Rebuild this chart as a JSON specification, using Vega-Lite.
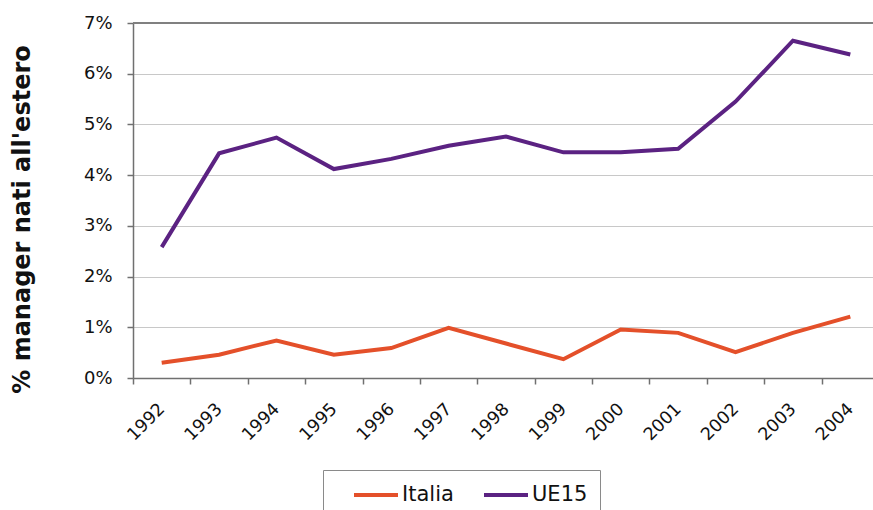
{
  "$schema": "https://vega.github.io/schema/vega-lite/v6.json",
  "autosize": {"type": "none"},
  "padding": {"left": 133, "top": 23, "right": 0, "bottom": 132},
  "width": 746,
  "height": 355,
  "background": "white",
  "config": {
    "font": "DejaVu Sans",
    "view": {"stroke": null},
    "legend": {"strokeColor": "#8a8a8a"}
  },
  "data": {
    "values": [
      {"anno": "1992", "serie": "Italia", "valore": 0.0030},
      {"anno": "1993", "serie": "Italia", "valore": 0.0046},
      {"anno": "1994", "serie": "Italia", "valore": 0.0074},
      {"anno": "1995", "serie": "Italia", "valore": 0.0046},
      {"anno": "1996", "serie": "Italia", "valore": 0.0059},
      {"anno": "1997", "serie": "Italia", "valore": 0.0099},
      {"anno": "1998", "serie": "Italia", "valore": 0.0068},
      {"anno": "1999", "serie": "Italia", "valore": 0.0037},
      {"anno": "2000", "serie": "Italia", "valore": 0.00955},
      {"anno": "2001", "serie": "Italia", "valore": 0.0089},
      {"anno": "2002", "serie": "Italia", "valore": 0.0051},
      {"anno": "2003", "serie": "Italia", "valore": 0.0089},
      {"anno": "2004", "serie": "Italia", "valore": 0.0121},
      {"anno": "1992", "serie": "UE15", "valore": 0.0258},
      {"anno": "1993", "serie": "UE15", "valore": 0.0443},
      {"anno": "1994", "serie": "UE15", "valore": 0.0474},
      {"anno": "1995", "serie": "UE15", "valore": 0.0412},
      {"anno": "1996", "serie": "UE15", "valore": 0.0432},
      {"anno": "1997", "serie": "UE15", "valore": 0.0458},
      {"anno": "1998", "serie": "UE15", "valore": 0.0476},
      {"anno": "1999", "serie": "UE15", "valore": 0.0445},
      {"anno": "2000", "serie": "UE15", "valore": 0.0445},
      {"anno": "2001", "serie": "UE15", "valore": 0.0452},
      {"anno": "2002", "serie": "UE15", "valore": 0.0545},
      {"anno": "2003", "serie": "UE15", "valore": 0.0665},
      {"anno": "2004", "serie": "UE15", "valore": 0.0638}
    ]
  },
  "layer": [
    {
      "mark": {"type": "rule", "color": "#808080", "strokeWidth": 1.5},
      "encoding": {"y": {"datum": 0.07, "type": "quantitative", "scale": {"domain": [0, 0.07]}}}
    },
    {
      "mark": {"type": "line", "strokeWidth": 4, "strokeJoin": "miter", "strokeCap": "butt"},
      "encoding": {
        "x": {
          "field": "anno",
          "type": "ordinal",
          "scale": {"type": "band", "paddingInner": 0, "paddingOuter": 0},
          "axis": {
            "title": null,
            "domainColor": "#707070",
            "domainWidth": 1.5,
            "tickColor": "#707070",
            "tickWidth": 1.5,
            "tickSize": 6,
            "tickBand": "extent",
            "labelAngle": -45,
            "labelAlign": "right",
            "labelBaseline": "middle",
            "labelPadding": 22,
            "labelFontSize": 17.5,
            "labelColor": "#111111",
            "labelFont": "DejaVu Sans"
          }
        },
        "y": {
          "field": "valore",
          "type": "quantitative",
          "scale": {"domain": [0, 0.07], "nice": false},
          "axis": {
            "title": "% manager nati all'estero",
            "titleFont": "DejaVu Sans",
            "titleFontSize": 24,
            "titleFontWeight": "bold",
            "titleColor": "#111111",
            "titleX": -111,
            "titleY": 196,
            "titleAlign": "center",
            "titleBaseline": "middle",
            "titleAngle": -90,
            "format": ".0%",
            "values": [0, 0.01, 0.02, 0.03, 0.04, 0.05, 0.06, 0.07],
            "labelFontSize": 18,
            "labelColor": "#111111",
            "labelFont": "DejaVu Sans",
            "labelPadding": 15,
            "domainColor": "#707070",
            "domainWidth": 1.5,
            "tickColor": "#707070",
            "tickWidth": 1.5,
            "tickSize": 6,
            "grid": true,
            "gridColor": "#c8c8c8",
            "gridWidth": 1.2
          }
        },
        "color": {
          "field": "serie",
          "type": "nominal",
          "scale": {"domain": ["Italia", "UE15"], "range": ["#e4502a", "#5b2282"]},
          "legend": {
            "title": null,
            "orient": "none",
            "legendX": 190,
            "legendY": 447,
            "direction": "horizontal",
            "symbolType": "M-2,0H2",
            "symbolSize": 484,
            "symbolStrokeWidth": 4,
            "symbolOffset": 28,
            "labelFontSize": 21,
            "labelFont": "DejaVu Sans",
            "labelColor": "#111111",
            "labelOffset": 13,
            "columnPadding": 11,
            "padding": 12,
            "strokeColor": "#8a8a8a",
            "fillColor": "white"
          }
        }
      }
    }
  ]
}
